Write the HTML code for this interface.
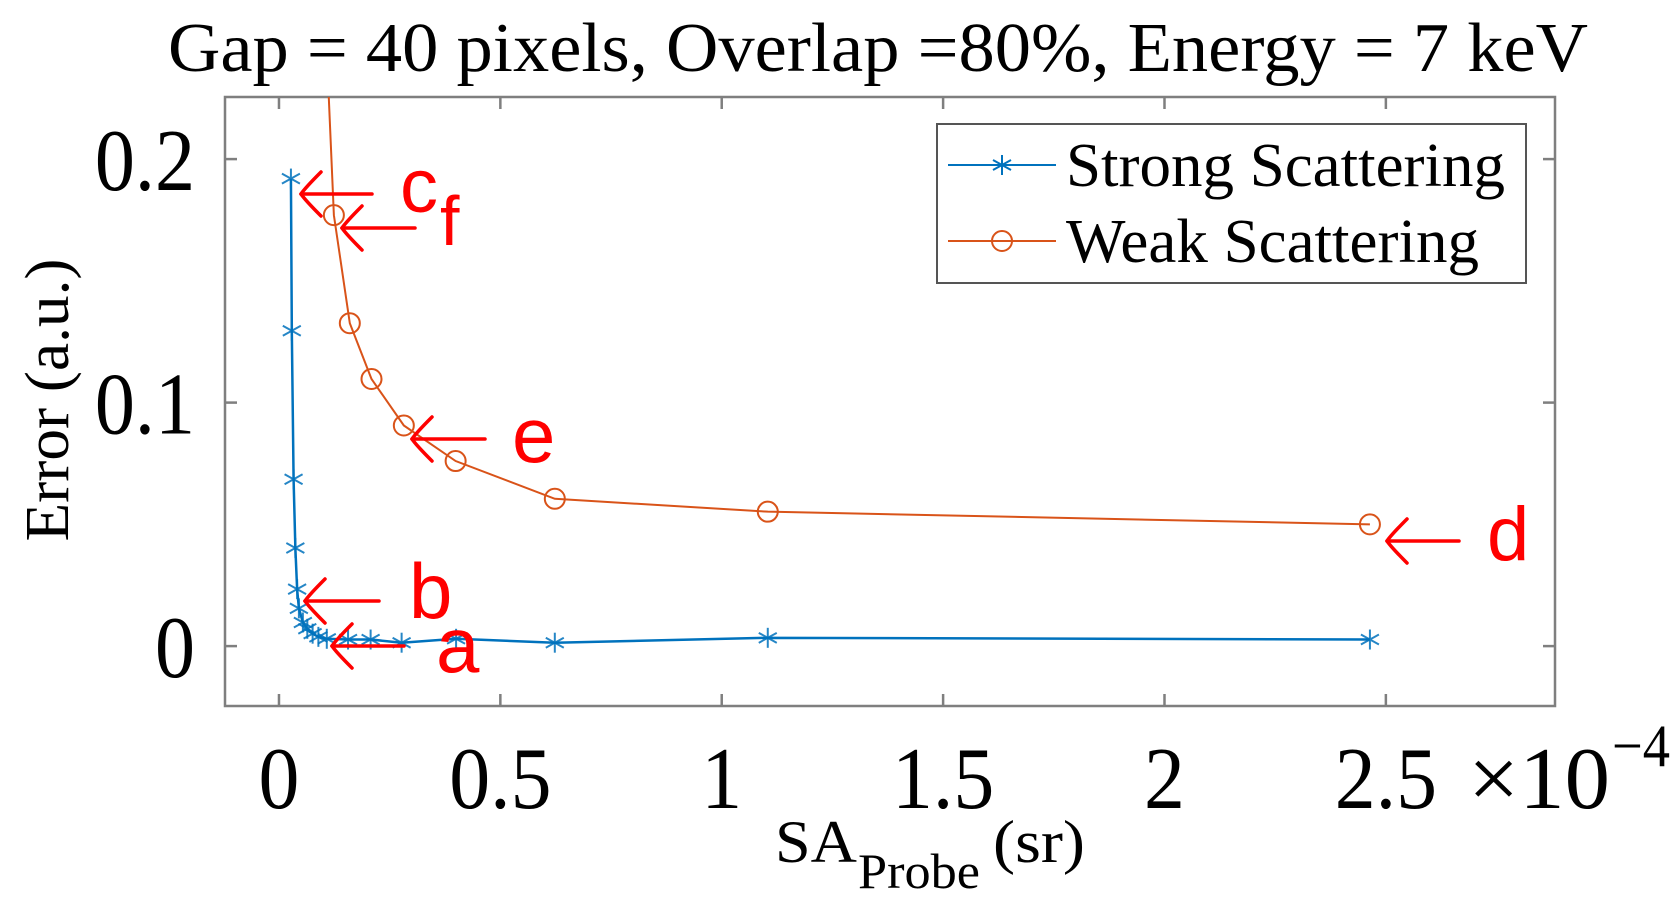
<!DOCTYPE html>
<html><head><meta charset="utf-8"><style>
html,body{margin:0;padding:0;background:#fff;}
svg{display:block;}
</style></head><body>
<svg id="chart" width="1680" height="907" viewBox="0 0 1680 907" xmlns="http://www.w3.org/2000/svg">
<rect width="1680" height="907" fill="#fff"/>
<text x="878" y="71" font-family="Liberation Serif, serif" font-size="70" text-anchor="middle" textLength="1420" lengthAdjust="spacingAndGlyphs">Gap = 40 pixels, Overlap =80%, Energy = 7 keV</text>
<defs><clipPath id="plotclip"><rect x="225" y="97" width="1330" height="609"/></clipPath></defs>
<rect x="225" y="97" width="1330" height="609" fill="#fff" stroke="#7f7f7f" stroke-width="2.5"/>
<g id="axes"></g>
<g id="series" clip-path="url(#plotclip)"></g>
<g id="annotations"></g>
<g>
<rect x="937" y="124" width="589" height="159" fill="#fff" stroke="#555" stroke-width="2"/>
<g>
<line x1="948" y1="165" x2="1056" y2="165" stroke="#0072BD" stroke-width="2"/>
<g stroke="#0072BD" stroke-width="2"><line x1="1002" y1="155" x2="1002" y2="175"/><line x1="993" y1="160" x2="1011" y2="170"/><line x1="993" y1="170" x2="1011" y2="160"/></g>
<text x="1066" y="186" font-family="Liberation Serif, serif" font-size="62" textLength="439" lengthAdjust="spacingAndGlyphs">Strong Scattering</text>
</g>
<g>
<line x1="948" y1="241" x2="1056" y2="241" stroke="#D95319" stroke-width="2"/>
<circle cx="1002" cy="241" r="10" fill="none" stroke="#D95319" stroke-width="2"/>
<text x="1066" y="262" font-family="Liberation Serif, serif" font-size="62" textLength="413" lengthAdjust="spacingAndGlyphs">Weak Scattering</text>
</g>
</g>
<text transform="translate(68,400) rotate(-90)" font-family="Liberation Serif, serif" font-size="62" text-anchor="middle" textLength="283" lengthAdjust="spacingAndGlyphs">Error (a.u.)</text>
<g font-family="Liberation Serif, serif">
<text x="775" y="862" font-size="60" textLength="82" lengthAdjust="spacingAndGlyphs">SA</text>
<text x="858" y="888" font-size="50" textLength="122" lengthAdjust="spacingAndGlyphs">Probe</text>
<text x="993" y="862" font-size="60" textLength="92" lengthAdjust="spacingAndGlyphs">(sr)</text>
</g>
<g font-family="Liberation Serif, serif">
<text x="1468" y="808" font-size="88" textLength="142" lengthAdjust="spacingAndGlyphs">×10</text>
<text x="1612" y="766" font-size="60" textLength="58" lengthAdjust="spacingAndGlyphs">−4</text>
</g>
</svg>
<script>
const xTicks = [0, 0.5, 1, 1.5, 2, 2.5];
const xTickLabels = ["0", "0.5", "1", "1.5", "2", "2.5"];
const yTicks = [0, 0.1, 0.2];
const yTickLabels = ["0", "0.1", "0.2"];
const strongX = [0.027, 0.029, 0.033, 0.037, 0.041, 0.045, 0.054, 0.064, 0.076, 0.089, 0.108, 0.156, 0.207, 0.277, 0.400, 0.623, 1.104, 2.464];
const strongY = [0.192, 0.1295, 0.0685, 0.0403, 0.0234, 0.0155, 0.0097, 0.0071, 0.0051, 0.0038, 0.003, 0.0027, 0.0027, 0.0014, 0.003, 0.0014, 0.0034, 0.0027];
const weakX = [0.09, 0.124, 0.160, 0.209, 0.282, 0.399, 0.623, 1.104, 2.464];
const weakY = [0.32, 0.177, 0.1326, 0.1097, 0.0906, 0.076, 0.0605, 0.0552, 0.050];
const weakMarkerStart = 1;
const annLabels = ["c", "f", "e", "d", "b", "a"];

const NS = "http://www.w3.org/2000/svg";
const X0 = 225, X1 = 1555, Y0 = 97, Y1 = 706;
const xMin = -0.1219, xMax = 2.882, yMin = -0.0246, yMax = 0.2255;
function sx(v){ return X0 + (v - xMin) / (xMax - xMin) * (X1 - X0); }
function sy(v){ return Y1 - (v - yMin) / (yMax - yMin) * (Y1 - Y0); }
function mk(tag, attrs, parent){ const e = document.createElementNS(NS, tag); for (const k in attrs) e.setAttribute(k, attrs[k]); parent.appendChild(e); return e; }

const axes = document.getElementById("axes");
xTicks.forEach((t, i) => {
  const g = mk("g", {}, axes);
  
  
  const x = sx(t);
  mk("line", {x1:x, y1:Y1, x2:x, y2:Y1-12, stroke:"#7f7f7f", "stroke-width":2.5}, g);
  mk("line", {x1:x, y1:Y0, x2:x, y2:Y0+12, stroke:"#7f7f7f", "stroke-width":2.5}, g);
  const lab = xTickLabels[i];
  let w = 0; for (const c of lab) w += (c === "." ? 0.25 : 0.5);
  const tx = mk("text", {x:x, y:808, "font-family":"Liberation Serif, serif", "font-size":88, "text-anchor":"middle", textLength:(w*88*0.93).toFixed(1), lengthAdjust:"spacingAndGlyphs"}, g);
  tx.textContent = lab;
});
yTicks.forEach((t, i) => {
  const g = mk("g", {}, axes);
  
  
  const y = sy(t);
  mk("line", {x1:X0, y1:y, x2:X0+12, y2:y, stroke:"#7f7f7f", "stroke-width":2.5}, g);
  mk("line", {x1:X1, y1:y, x2:X1-12, y2:y, stroke:"#7f7f7f", "stroke-width":2.5}, g);
  const lab = yTickLabels[i];
  let w = 0; for (const c of lab) w += (c === "." ? 0.25 : 0.5);
  const tx = mk("text", {x:195, y:y+31, "font-family":"Liberation Serif, serif", "font-size":88, "text-anchor":"end", textLength:(w*88*0.91).toFixed(1), lengthAdjust:"spacingAndGlyphs"}, g);
  tx.textContent = lab;
});

const series = document.getElementById("series");
const weakG = mk("g", {}, series);


mk("polyline", {points: weakX.map((v,i)=>sx(v)+","+sy(weakY[i])).join(" "), fill:"none", stroke:"#D95319", "stroke-width":2}, weakG);
weakX.forEach((v, i) => {
  if (i < weakMarkerStart) return;
  const c = mk("circle", {cx:sx(v), cy:sy(weakY[i]), r:10, fill:"none", stroke:"#D95319", "stroke-width":2}, weakG);
  
  
});
const strongG = mk("g", {}, series);


mk("polyline", {points: strongX.map((v,i)=>sx(v)+","+sy(strongY[i])).join(" "), fill:"none", stroke:"#0072BD", "stroke-width":2.5}, strongG);
strongX.forEach((v, i) => {
  const x = sx(v), y = sy(strongY[i]);
  const g = mk("g", {stroke:"#0072BD", "stroke-width":2, opacity:0.85}, strongG);
  
  
  mk("line", {x1:x, y1:y-10, x2:x, y2:y+10}, g);
  mk("line", {x1:x-9, y1:y-5, x2:x+9, y2:y+5}, g);
  mk("line", {x1:x-9, y1:y+5, x2:x+9, y2:y-5}, g);
});

const ann = document.getElementById("annotations");
const arrows = [[301,194,372],[342,228,415],[412,439,485],[1387,541,1459],[305,601,379],[332,646,404]];
arrows.forEach(a => {
  const g = mk("g", {stroke:"#ff0000", "stroke-width":3.5, fill:"none", "stroke-linecap":"round"}, ann);
  
  
  mk("line", {x1:a[0], y1:a[1], x2:a[2], y2:a[1]}, g);
  mk("path", {d:`M${a[0]+20},${a[1]-22} Q${a[0]+4},${a[1]-6} ${a[0]},${a[1]} Q${a[0]+4},${a[1]+6} ${a[0]+20},${a[1]+22}`}, g);
});
const labPos = [[400,212,76],[440,245,70],[512,462,78],[1487,560,76],[409,618,78],[436,672,78]];
annLabels.forEach((t, i) => {
  const p = labPos[i];
  const tx = mk("text", {x:p[0], y:p[1], "font-family":"Liberation Sans, sans-serif", "font-size":p[2], fill:"#ff0000"}, ann);
  
  
  tx.textContent = t;
});
</script>
</body></html>
